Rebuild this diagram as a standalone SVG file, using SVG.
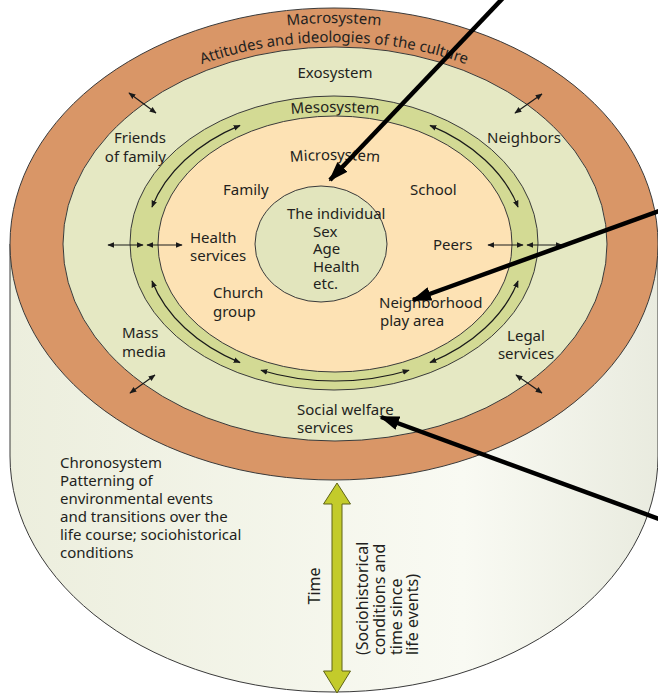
<svg xmlns="http://www.w3.org/2000/svg" width="658" height="695" viewBox="0 0 658 695">
<defs>
<style>
text{font-family:"Noto Sans","Open Sans","Liberation Sans",sans-serif;font-size:15px;fill:#231f20}
.tl{font-size:16px}
.ring{stroke:#3a3a3a;stroke-width:1}
.thin{fill:none;stroke:#1a1a1a;stroke-width:1.2}
.big{fill:none;stroke:#000;stroke-width:4.5}
</style>
<linearGradient id="side" x1="0" y1="0" x2="1" y2="0">
<stop offset="0" stop-color="#eceedd"/>
<stop offset="0.7" stop-color="#f9faf3"/>
<stop offset="1" stop-color="#e9ebdf"/>
</linearGradient>
<marker id="ah" viewBox="0 0 10 10" refX="9" refY="5" markerWidth="7" markerHeight="7" markerUnits="userSpaceOnUse" orient="auto-start-reverse">
<path d="M0,1 L10,5 L0,9 Z" fill="#1a1a1a"/>
</marker>
<marker id="bh" viewBox="0 0 20 14" refX="18" refY="7" markerWidth="20" markerHeight="14" markerUnits="userSpaceOnUse" orient="auto">
<path d="M0,0 L20,7 L0,14 Z" fill="#000"/>
</marker>
<path id="macroPath" d="M 22 244 A 312 221 0 0 1 646 244"/>
<path id="attPath" d="M 44 244 A 290 202 0 0 1 624 244"/>
<path id="mesoPath" d="M 85 244 A 250 132 0 0 1 585 244"/>
<path id="microPath" d="M 135 244 A 200 84 0 0 1 535 244"/>
</defs>

<g id="chronosystem">
<path d="M 10 244 L 10 456 A 324 236 0 0 0 658 456 L 658 244 Z" fill="url(#side)" stroke="#3a3a3a" stroke-width="1"/>
<text x="60" y="468">Chronosystem</text>
<text x="60" y="486">Patterning of</text>
<text x="60" y="504">environmental events</text>
<text x="60" y="522">and transitions over the</text>
<text x="60" y="540">life course; sociohistorical</text>
<text x="60" y="558">conditions</text>
</g>

<g id="macrosystem">
<ellipse class="ring" cx="334" cy="244" rx="324" ry="236" fill="#d99667"/>
<text><textPath href="#macroPath" startOffset="50%" text-anchor="middle">Macrosystem</textPath></text>
<text><textPath href="#attPath" startOffset="50%" text-anchor="middle">Attitudes and ideologies of the culture</textPath></text>
</g>

<g id="exosystem">
<ellipse class="ring" cx="335" cy="244" rx="272" ry="197" fill="#e5e8c3"/>
<text x="335" y="78" text-anchor="middle">Exosystem</text>
<text x="166" y="143" text-anchor="end">Friends</text>
<text x="166" y="162" text-anchor="end">of family</text>
<text x="487" y="143">Neighbors</text>
<text x="122" y="338">Mass</text>
<text x="122" y="357">media</text>
<text x="526" y="341" text-anchor="middle">Legal</text>
<text x="526" y="359" text-anchor="middle">services</text>
<text x="297" y="415">Social welfare</text>
<text x="297" y="433">services</text>
</g>

<g id="mesosystem">
<ellipse class="ring" cx="334" cy="243" rx="204" ry="147" fill="#d3da94"/>
<text><textPath href="#mesoPath" startOffset="50%" text-anchor="middle">Mesosystem</textPath></text>
</g>

<g id="microsystem">
<ellipse class="ring" cx="335" cy="244" rx="177" ry="128" fill="#fde2b4"/>
<text><textPath href="#microPath" startOffset="50%" text-anchor="middle">Microsystem</textPath></text>
<text x="223" y="195">Family</text>
<text x="410" y="195">School</text>
<text x="190" y="243">Health</text>
<text x="190" y="261">services</text>
<text x="433" y="250">Peers</text>
<text x="213" y="298">Church</text>
<text x="213" y="317">group</text>
<text x="379" y="308">Neighborhood</text>
<text x="380" y="326">play area</text>
</g>

<g id="individual">
<ellipse class="ring" cx="321" cy="244" rx="66" ry="58" fill="#e2e5bd"/>
<text x="287" y="219">The individual</text>
<text x="313" y="237">Sex</text>
<text x="313" y="254">Age</text>
<text x="313" y="272">Health</text>
<text x="313" y="289">etc.</text>
</g>

<g id="time">
<polygon points="337,483 350.5,504 342,504 342,671 350.5,671 337,693 323.5,671 332,671 332,504 323.5,504" fill="#c3cb2b" stroke="#5e6318" stroke-width="1"/>
<text class="tl" transform="translate(320,586) rotate(-90)" text-anchor="middle">Time</text>
<text class="tl" transform="translate(368,655) rotate(-90)">(Sociohistorical</text>
<text class="tl" transform="translate(385,655) rotate(-90)">conditions and</text>
<text class="tl" transform="translate(402,655) rotate(-90)">time since</text>
<text class="tl" transform="translate(418,655) rotate(-90)">life events)</text>
</g>

<g id="connectors">
<path class="thin" d="M 240 125.4 A 190 137 0 0 0 152 207" marker-start="url(#ah)" marker-end="url(#ah)"/>
<path class="thin" d="M 152 281 A 190 137 0 0 0 240 362.6" marker-start="url(#ah)" marker-end="url(#ah)"/>
<path class="thin" d="M 261 370.2 A 190 137 0 0 0 409 370.2" marker-start="url(#ah)" marker-end="url(#ah)"/>
<path class="thin" d="M 430 362.6 A 190 137 0 0 0 518 281" marker-start="url(#ah)" marker-end="url(#ah)"/>
<path class="thin" d="M 518 207 A 190 137 0 0 0 430 125.4" marker-start="url(#ah)" marker-end="url(#ah)"/>
<path class="thin" d="M 108 245 L 143 245" marker-start="url(#ah)" marker-end="url(#ah)"/>
<path class="thin" d="M 147 245 L 182 245" marker-start="url(#ah)" marker-end="url(#ah)"/>
<path class="thin" d="M 488 245 L 523 245" marker-start="url(#ah)" marker-end="url(#ah)"/>
<path class="thin" d="M 527 245 L 562 245" marker-start="url(#ah)" marker-end="url(#ah)"/>
<path class="thin" d="M 129 93 L 156 113" marker-start="url(#ah)" marker-end="url(#ah)"/>
<path class="thin" d="M 515 113 L 542 94" marker-start="url(#ah)" marker-end="url(#ah)"/>
<path class="thin" d="M 155 375 L 130 393" marker-start="url(#ah)" marker-end="url(#ah)"/>
<path class="thin" d="M 516 375 L 542 393" marker-start="url(#ah)" marker-end="url(#ah)"/>
<path class="big" d="M 503 -2 L 330 180" marker-end="url(#bh)"/>
<path class="big" d="M 662 210 L 413 300" marker-end="url(#bh)"/>
<path class="big" d="M 662 520 L 381 417" marker-end="url(#bh)"/>
</g>
</svg>
